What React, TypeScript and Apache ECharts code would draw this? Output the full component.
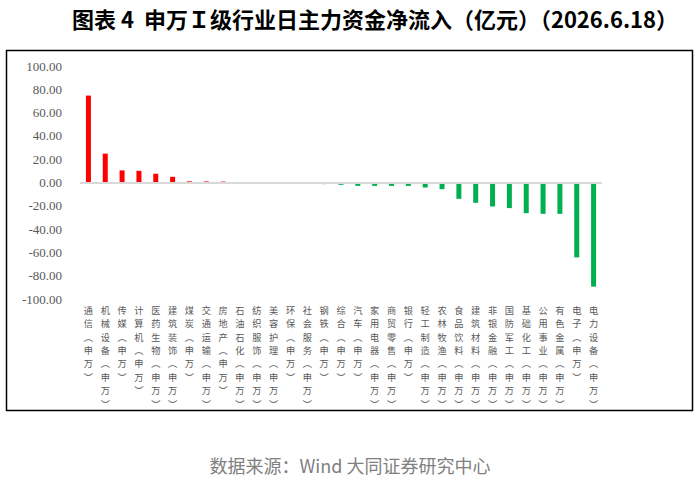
import React, { useEffect, useRef } from "react";
import * as echarts from "echarts";

const categories = [
  "通信(申万)", "机械设备(申万)", "传媒(申万)", "计算机(申万)", "医药生物(申万)",
  "建筑装饰(申万)", "煤炭(申万)", "交通运输(申万)", "房地产(申万)", "石油石化(申万)",
  "纺织服饰(申万)", "美容护理(申万)", "环保(申万)", "社会服务(申万)", "钢铁(申万)",
  "综合(申万)", "汽车(申万)", "家用电器(申万)", "商贸零售(申万)", "银行(申万)",
  "轻工制造(申万)", "农林牧渔(申万)", "食品饮料(申万)", "建筑材料(申万)", "非银金融(申万)",
  "国防军工(申万)", "基础化工(申万)", "公用事业(申万)", "有色金属(申万)", "电子(申万)",
  "电力设备(申万)",
];

const values = [
  74.6, 24.8, 10.4, 10.0, 7.5,
  4.9, 1.0, 0.9, 0.8, -0.4,
  -0.4, -0.4, -0.4, -0.5, -1.4,
  -2.0, -2.9, -2.9, -2.9, -2.9,
  -4.3, -5.7, -14.0, -17.4, -20.6,
  -22.0, -26.3, -26.9, -26.9, -64.3,
  -89.4,
];

const titleText = "图表 4  申万Ｉ级行业日主力资金净流入（亿元）（2026.6.18）";
const sourceText = "数据来源：Wind 大同证券研究中心";

export default function App() {
  const ref = useRef<HTMLDivElement>(null);
  useEffect(() => {
    if (!ref.current) return;
    const chart = echarts.init(ref.current, undefined, { renderer: "svg" });
    chart.setOption({
      animation: false,
      backgroundColor: "#ffffff",
      grid: { left: 80, right: 98, top: 66, bottom: 181, containLabel: false },
      xAxis: {
        type: "category",
        data: categories,
        axisLine: { show: false },
        axisTick: { show: false },
        axisLabel: {
          interval: 0,
          margin: 4,
          color: "#595959",
          fontSize: 9.2,
          lineHeight: 13.4,
          fontFamily: "Noto Sans CJK SC",
          formatter: (v: string) =>
            v.replace("(", "︵").replace(")", "︶").split("").join("\n"),
        },
      },
      yAxis: {
        type: "value",
        min: -100,
        max: 100,
        interval: 20,
        axisLine: { show: false },
        axisTick: { show: false },
        splitLine: { show: false },
        axisLabel: {
          margin: 18,
          color: "#595959",
          fontSize: 13,
          fontFamily: "Liberation Serif",
          formatter: (v: number) => v.toFixed(2),
        },
      },
      series: [
        {
          type: "bar",
          barWidth: 5,
          data: values.map((v) => ({
            value: v,
            itemStyle: { color: v >= 0 ? "#FF0000" : "#00B050" },
          })),
          markLine: {
            silent: true,
            symbol: "none",
            label: { show: false },
            lineStyle: { color: "#d9d9d9", width: 2, type: "solid" },
            data: [{ yAxis: 0 }],
          },
        },
      ],
      graphic: [
        {
          type: "rect",
          shape: { x: 6.5, y: 50.5, width: 686, height: 360 },
          style: { fill: "none", stroke: "#000000", lineWidth: 1.5 },
          z: -1,
        },
        {
          type: "text",
          x: 375,
          y: 18,
          style: {
            text: titleText,
            align: "center",
            verticalAlign: "middle",
            fontSize: 22,
            fontWeight: "bold",
            fontFamily: "Noto Sans CJK SC",
            fill: "#000000",
          },
        },
        {
          type: "text",
          x: 350,
          y: 465,
          style: {
            text: sourceText,
            align: "center",
            verticalAlign: "middle",
            fontSize: 18,
            fontFamily: "Noto Sans CJK SC",
            fill: "#808080",
          },
        },
      ],
    });
    return () => chart.dispose();
  }, []);
  return (
    <div
      ref={ref}
      style={{ position: "absolute", left: 0, top: 0, width: 700, height: 480 }}
    />
  );
}
